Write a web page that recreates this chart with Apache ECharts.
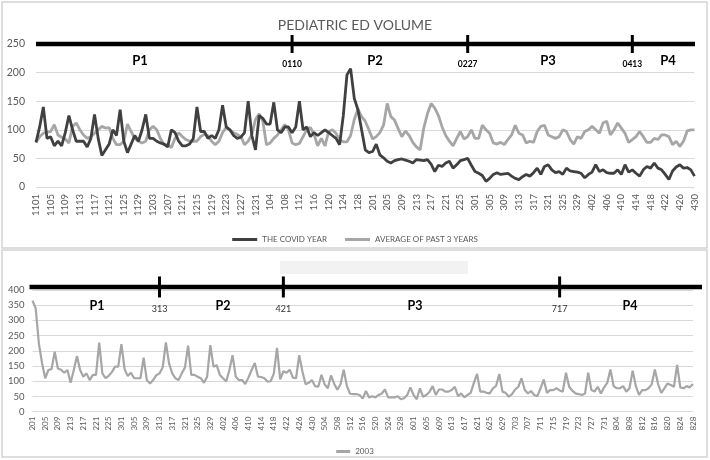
<!DOCTYPE html>
<html><head><meta charset="utf-8">
<script src="https://cdn.jsdelivr.net/npm/echarts@6.0.0/dist/echarts.min.js"></script>
<style>html,body{margin:0;padding:0;background:#fff}#c{width:710px;height:460px}</style>
</head><body><div id="c"></div>
<script>
// ---------- DATA ----------
const topMonths = [[11,30],[12,31],[1,31],[2,28],[3,31],[4,30]];
const bottomMonths = [[2,28],[3,31],[4,30],[5,31],[6,30],[7,31],[8,28]];
function buildDays(months){const out=[];months.forEach(([m,n])=>{for(let d=1;d<=n;d++)out.push(String(m)+String(d).padStart(2,'0'));});return out;}
const topCategories = buildDays(topMonths);
const bottomCategories = buildDays(bottomMonths);

const covidYear = [
78,105,140,85,88,72,80,72,95,125,
100,80,80,80,70,85,127,85,55,65,
75,100,90,135,80,60,75,90,80,100,
127,85,85,80,77,75,70,100,95,80,
72,72,75,85,140,97,97,85,90,85,
100,143,105,100,90,85,87,95,150,90,
65,125,120,110,110,148,100,95,105,105,
95,105,150,100,105,88,95,90,95,100,
95,90,85,74,125,196,207,155,135,100,
65,60,62,75,56,51,45,42,46,48,
49,47,45,42,48,47,46,48,40,27,
38,36,42,45,33,39,46,48,50,38,
27,24,20,10,15,22,25,22,23,24,
19,15,13,18,22,19,25,33,22,36,
39,30,25,27,22,33,28,27,26,24,
16,22,26,39,27,30,25,24,24,30,
22,39,26,30,24,19,30,36,33,42,
33,30,22,13,28,35,39,33,34,30,
19];
const pastAverage = [
78,88,94,96,97,109,91,87,84,77,
106,112,100,91,85,88,94,100,106,103,
104,85,74,74,80,110,97,85,80,77,
80,100,106,100,85,74,74,69,85,95,
88,83,80,80,80,88,92,90,80,74,
80,95,104,100,95,92,88,74,80,92,
118,128,115,74,77,85,91,100,109,100,
77,74,76,88,100,104,92,72,85,72,
97,100,94,82,79,79,90,118,136,123,
115,100,84,88,95,108,146,123,117,102,
88,98,90,78,70,65,103,128,146,138,
125,105,90,80,72,85,97,84,88,100,
85,85,108,100,94,77,75,78,74,83,
91,108,94,91,77,80,78,97,106,108,
91,88,85,88,100,97,83,75,88,85,
97,100,106,100,94,112,115,91,100,112,
103,94,78,83,88,97,88,78,78,85,
83,91,91,88,74,80,71,80,98,100,
100];
const sars2003 = [
365,340,225,160,110,137,140,197,142,138,
128,137,95,137,183,137,115,126,104,121,
121,227,126,110,118,130,148,148,222,140,
117,128,110,110,110,178,104,93,104,120,
126,145,228,159,126,110,104,126,145,217,
121,121,115,110,95,115,219,148,153,121,
110,99,137,186,115,104,104,91,112,137,
160,115,114,110,99,100,125,210,106,133,
128,138,112,110,186,132,90,95,104,84,
82,121,90,77,119,92,72,90,138,85,
59,58,58,55,43,68,47,51,47,55,
60,73,47,47,47,51,41,44,55,80,
55,41,77,49,55,65,84,55,73,73,
66,66,71,82,51,60,47,55,62,95,
124,66,66,62,60,77,85,124,66,62,
49,58,73,82,110,72,60,68,55,51,
77,106,62,71,71,77,70,66,128,82,
69,60,58,55,60,128,71,66,82,60,
80,95,139,84,77,77,84,66,77,135,
84,55,71,71,77,90,139,91,62,77,
93,88,82,154,80,77,84,80,91];

const seriesNames = ['THE COVID YEAR','AVERAGE OF PAST 3 YEARS','2003'];
const topYRange = [0,250,50];
const bottomYRange = [0,400,50];
const topDividers = [{date:'110',label:'0110'},{date:'227',label:'0227'},{date:'413',label:'0413'}];
const topPhases = ['P1','P2','P3','P4'];
const bottomDividers = [{date:'313',label:'313'},{date:'421',label:'421'},{date:'717',label:'717'}];
const bottomPhases = ['P1','P2','P3','P4'];

// ---------- LAYOUT ----------
const FONT = 'Lato, "Liberation Sans", sans-serif';
const topPhaseX = [140,375,548,668];
const bottomPhaseX = [97,223,415,630];
const labelColor = '#595959';

const chart = echarts.init(document.getElementById('c'), null, {renderer:'canvas'});
const option = {
  animation:false,
  backgroundColor:'#fff',
  textStyle:{fontFamily:FONT},
  title:{text:'PEDIATRIC ED VOLUME',left:'center',top:13,
    textStyle:{fontSize:14,fontWeight:'normal',color:labelColor,fontFamily:FONT}},
  legend:[
    {data:[seriesNames[0],seriesNames[1]],left:'center',top:230.5,icon:'rect',itemWidth:25,itemHeight:3,itemGap:18,
      textStyle:{fontSize:8,color:labelColor,fontFamily:FONT}},
    {data:[seriesNames[2]],left:'center',top:442.5,icon:'rect',itemWidth:14,itemHeight:3,
      textStyle:{fontSize:8,color:labelColor,fontFamily:FONT}}
  ],
  grid:[
    {left:36,right:15.5,top:44,height:143},
    {left:32.5,right:17,top:290,height:121.7}
  ],
  xAxis:[
    {type:'category',gridIndex:0,data:topCategories,boundaryGap:false,
      axisLine:{show:false},axisTick:{show:false},
      axisLabel:{interval:3,rotate:90,fontSize:9.5,color:labelColor,margin:7,fontFamily:FONT}},
    {type:'category',gridIndex:1,data:bottomCategories,boundaryGap:false,
      axisLine:{show:false},axisTick:{show:false},
      axisLabel:{interval:3,rotate:90,fontSize:8,color:labelColor,margin:5,fontFamily:FONT}}
  ],
  yAxis:[
    {type:'value',gridIndex:0,min:topYRange[0],max:topYRange[1],interval:topYRange[2],
      axisLine:{show:false},axisTick:{show:false},
      splitLine:{lineStyle:{color:'#d9d9d9',width:1}},
      axisLabel:{fontSize:10.5,color:labelColor,margin:11,fontFamily:FONT}},
    {type:'value',gridIndex:1,min:bottomYRange[0],max:bottomYRange[1],interval:bottomYRange[2],
      axisLine:{show:false},axisTick:{show:false},
      splitLine:{lineStyle:{color:'#d9d9d9',width:1}},
      axisLabel:{fontSize:9.5,color:labelColor,margin:8,fontFamily:FONT}}
  ],
  series:[
    {name:seriesNames[0],type:'line',xAxisIndex:0,yAxisIndex:0,data:covidYear,symbol:'none',
      lineStyle:{color:'#404040',width:2.8},itemStyle:{color:'#404040'},z:3},
    {name:seriesNames[1],type:'line',xAxisIndex:0,yAxisIndex:0,data:pastAverage,symbol:'none',
      lineStyle:{color:'#a6a6a6',width:2.8},itemStyle:{color:'#a6a6a6'},z:2},
    {name:seriesNames[2],type:'line',xAxisIndex:1,yAxisIndex:1,data:sars2003,symbol:'none',
      lineStyle:{color:'#a6a6a6',width:2.2},itemStyle:{color:'#a6a6a6'},z:2}
  ]
};
chart.setOption(option);

// ---------- ANNOTATIONS ----------
const g = [];
g.push({type:'rect',silent:true,z:0,shape:{x:2,y:2,width:705,height:246},style:{fill:'none',stroke:'#d4d4d4',lineWidth:1.5}});
g.push({type:'rect',silent:true,z:0,shape:{x:2,y:250,width:705,height:207},style:{fill:'none',stroke:'#d4d4d4',lineWidth:1.5}});
g.push({type:'rect',silent:true,z:0,shape:{x:280,y:261,width:188,height:13},style:{fill:'#f2f2f2'}});

function addTimeline(axisIdx, cats, yVal, dividers, phases, phaseX, lineExt, tickHalf, divLabelDy, divFont, phaseDy, phaseFont){
  const y = chart.convertToPixel({yAxisIndex:axisIdx}, yVal);
  const x1 = chart.convertToPixel({xAxisIndex:axisIdx}, cats[0]) - lineExt[0];
  const x2 = chart.convertToPixel({xAxisIndex:axisIdx}, cats[cats.length-1]) + lineExt[1];
  g.push({type:'line',silent:true,z:10,shape:{x1:x1,y1:y,x2:x2,y2:y},style:{stroke:'#000',lineWidth:4.5}});
  dividers.forEach(d=>{
    const x = chart.convertToPixel({xAxisIndex:axisIdx}, d.date);
    g.push({type:'line',silent:true,z:11,shape:{x1:x,y1:y-tickHalf,x2:x,y2:y+tickHalf},style:{stroke:'#000',lineWidth:3}});
    g.push({type:'text',silent:true,z:11,x:x,y:y+divLabelDy,style:{text:d.label,fill:divFont.color,font:divFont.font,textAlign:'center',textVerticalAlign:'middle'}});
  });
  phases.forEach((p,i)=>{
    g.push({type:'text',silent:true,z:11,x:phaseX[i],y:y+phaseDy,style:{text:p,fill:'#000',font:phaseFont,textAlign:'center',textVerticalAlign:'middle'}});
  });
}
addTimeline(0, topCategories, 250, topDividers, topPhases, topPhaseX, [0,0.5], 9, 20,
  {font:'bold 8.5px '+FONT,color:'#000'}, 17, 'bold 13px '+FONT);
addTimeline(1, bottomCategories, 410, bottomDividers, bottomPhases, bottomPhaseX, [3,9], 10.5, 22,
  {font:'9px '+FONT,color:'#333'}, 19, 'bold 12.5px '+FONT);

chart.setOption({graphic:g});
</script></body></html>
